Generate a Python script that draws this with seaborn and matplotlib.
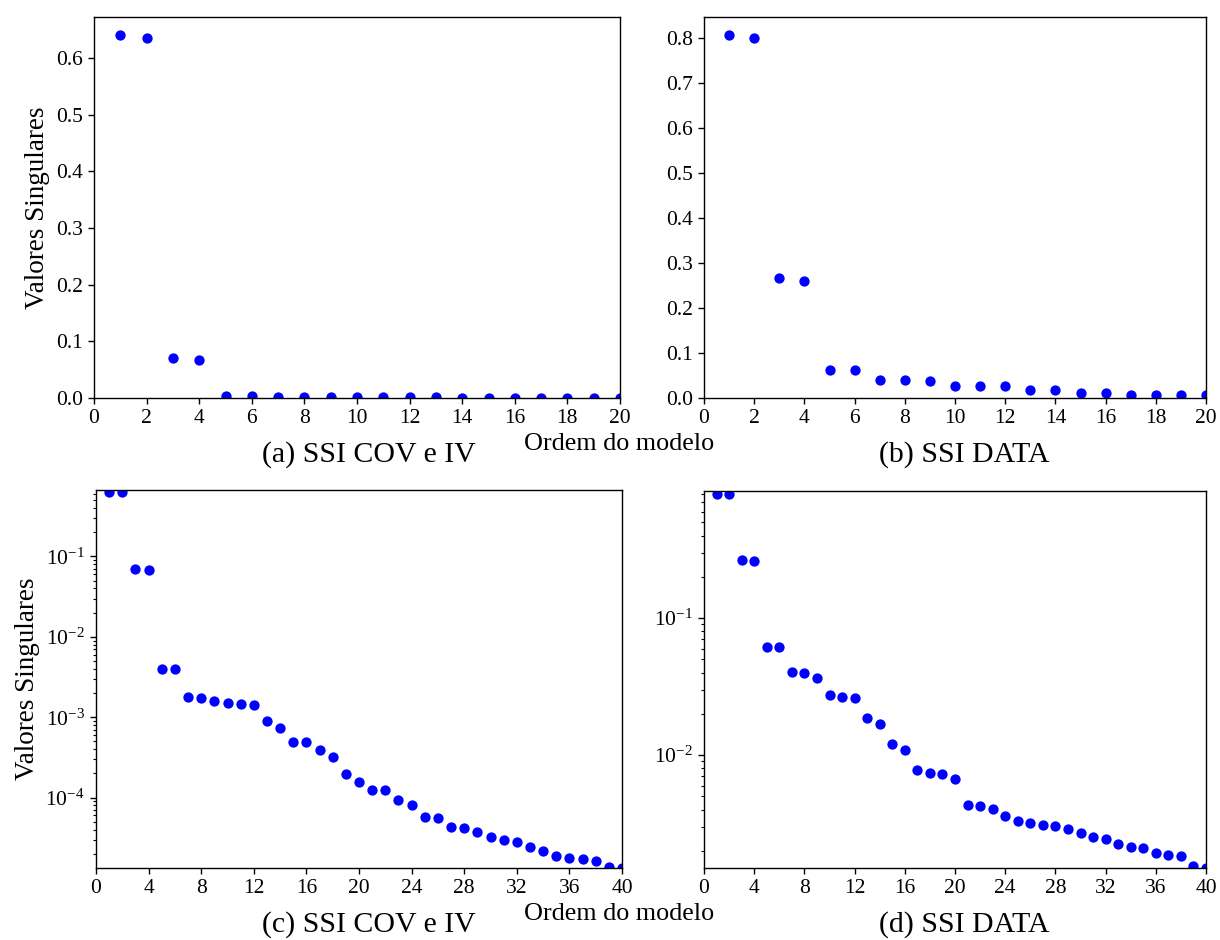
import numpy as np
import pandas as pd
import matplotlib
matplotlib.use("Agg")
import matplotlib.pyplot as plt
import seaborn as sns

# ---------------- data ----------------
orders = list(range(1, 41))

sv_cov_iv = [0.640, 0.635, 0.0704, 0.0677, 0.00401, 0.00401, 0.00179, 0.00175,
             0.00161, 0.00149, 0.00144, 0.00141, 0.00091, 0.000738, 0.000494,
             0.000485, 0.00039, 0.000322, 0.000199, 0.000158, 0.000126, 0.000126,
             9.27e-5, 8.11e-5, 5.81e-5, 5.54e-5, 4.33e-5, 4.20e-5, 3.75e-5,
             3.22e-5, 2.93e-5, 2.77e-5, 2.40e-5, 2.14e-5, 1.89e-5, 1.79e-5,
             1.72e-5, 1.64e-5, 1.36e-5, 1.33e-5]

sv_data = [0.807, 0.800, 0.266, 0.261, 0.0616, 0.0616, 0.0405, 0.0401, 0.0367,
           0.0274, 0.0265, 0.0262, 0.0188, 0.0168, 0.0120, 0.0109, 0.00778,
           0.00740, 0.00724, 0.00666, 0.00433, 0.00424, 0.00403, 0.00360,
           0.00328, 0.00317, 0.00308, 0.00302, 0.00290, 0.00270, 0.00254,
           0.00244, 0.00226, 0.00215, 0.00209, 0.00194, 0.00187, 0.00184,
           0.00154, 0.00150]

captions = ["(a) SSI COV e IV", "(b) SSI DATA", "(c) SSI COV e IV", "(d) SSI DATA"]
xlabel_text = "Ordem do modelo"
ylabel_text = "Valores Singulares"
top_xticks = list(range(0, 21, 2))
bottom_xticks = list(range(0, 41, 4))

# ---------------- style ----------------
sns.set_style("ticks")
plt.rcParams["font.family"] = ["Liberation Serif", "DejaVu Serif"]
plt.rcParams["mathtext.fontset"] = "stix"
plt.rcParams["text.color"] = "black"
plt.rcParams["axes.labelcolor"] = "black"
plt.rcParams["axes.edgecolor"] = "black"
plt.rcParams["axes.linewidth"] = 1.0
plt.rcParams["xtick.color"] = "black"
plt.rcParams["ytick.color"] = "black"
plt.rcParams["xtick.labelcolor"] = "black"
plt.rcParams["ytick.labelcolor"] = "black"
plt.rcParams["xtick.major.size"] = 4.5
plt.rcParams["ytick.major.size"] = 4.5
plt.rcParams["ytick.minor.size"] = 2.5
plt.rcParams["xtick.major.width"] = 1.0
plt.rcParams["ytick.major.width"] = 1.0
plt.rcParams["ytick.minor.width"] = 0.8

W, H = 1220, 940
fig = plt.figure(figsize=(W / 100, H / 100), dpi=100)

def add_ax(l, t, r, b):
    return fig.add_axes([l / W, 1 - b / H, (r - l) / W, (b - t) / H])

ax1 = add_ax(94, 17, 620, 398)
ax2 = add_ax(704, 17, 1206, 398)
ax3 = add_ax(96, 490, 622, 868)
ax4 = add_ax(704, 491, 1206, 868)

df = pd.DataFrame({"ordem": orders, "cov": sv_cov_iv, "data": sv_data})

tick_fs = 15.5
for ax, col, log, xt in [(ax1, "cov", False, top_xticks),
                         (ax2, "data", False, top_xticks),
                         (ax3, "cov", True, bottom_xticks),
                         (ax4, "data", True, bottom_xticks)]:
    sns.scatterplot(data=df, x="ordem", y=col, ax=ax, color="#0000ff",
                    s=55, linewidth=0, legend=False)
    ymax = 1.05 * df[col].max()
    if log:
        ax.set_yscale("log")
        ax.set_ylim(df[col].min(), ymax)
    else:
        ax.set_ylim(0, ymax)
    ax.set_xlim(xt[0], xt[-1])
    ax.set_xticks(xt)
    ax.set_xlabel("")
    ax.set_ylabel("")
    ax.tick_params(labelsize=tick_fs, colors="black")
    for s in ax.spines.values():
        s.set_visible(True)
        s.set_color("black")

ax1.set_yticks(np.arange(0, 0.61, 0.1))
ax2.set_yticks(np.arange(0, 0.81, 0.1))
ax1.set_ylabel(ylabel_text, fontsize=19.5, color="black")
ax3.set_ylabel(ylabel_text, fontsize=19.5, color="black")

# captions and shared x label
cap_fs = 21.5
fig.text(369 / W, 1 - 455 / H, captions[0], ha="center", va="center", fontsize=cap_fs)
fig.text(964 / W, 1 - 455 / H, captions[1], ha="center", va="center", fontsize=cap_fs)
fig.text(369 / W, 1 - 925 / H, captions[2], ha="center", va="center", fontsize=cap_fs)
fig.text(964 / W, 1 - 925 / H, captions[3], ha="center", va="center", fontsize=cap_fs)
fig.text(619 / W, 1 - 444 / H, xlabel_text, ha="center", va="center", fontsize=18.8)
fig.text(619 / W, 1 - 914 / H, xlabel_text, ha="center", va="center", fontsize=18.8)

fig.savefig("out.png", dpi=100, facecolor="white")
